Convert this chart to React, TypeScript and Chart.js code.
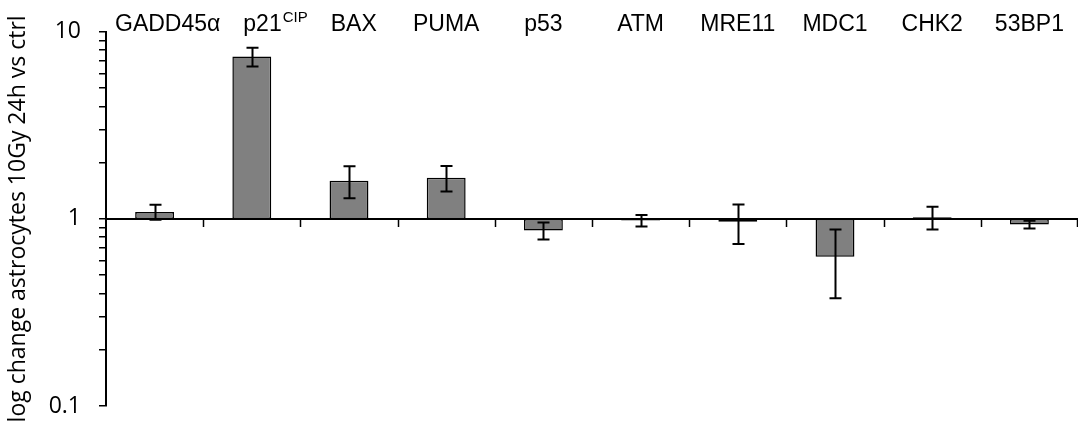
import React, { useEffect, useRef } from 'react';
import { Chart, registerables } from 'chart.js';

Chart.register(...registerables);

const categories = ['GADD45α', 'p21', 'BAX', 'PUMA', 'p53', 'ATM', 'MRE11', 'MDC1', 'CHK2', '53BP1'];
const superscripts = ['', 'CIP', '', '', '', '', '', '', '', ''];
const foldChange = [1.09, 7.38, 1.6, 1.66, 0.867, 0.98, 0.965, 0.627, 1.02, 0.933];
const errors = [0.1, 0.85, 0.31, 0.26, 0.09, 0.07, 0.23, 0.25, 0.143, 0.044];
const baseline = 1;
const yMin = 0.1;
const yMax = 10;
const yTickLabels = [0.1, 1, 10];
const yTitle = 'log change astrocytes 10Gy 24h vs ctrl';

function logMinorTicks(min: number, max: number) {
  const out: number[] = [];
  for (let d = min; d < max * 0.999; d *= 10) {
    for (let k = 1; k <= 9; k++) out.push(Math.round(k * d * 1000) / 1000);
  }
  out.push(max);
  return out;
}

export default function App() {
  const ref = useRef<HTMLCanvasElement>(null);

  useEffect(() => {
    document.body.style.margin = '0';
    const canvas = ref.current;
    if (!canvas) return;

    const overlay = {
      id: 'overlay',
      afterDatasetsDraw(chart: any) {
        const { ctx, chartArea, scales } = chart;
        const xs = scales.x;
        const ys = scales.y;
        ctx.save();
        ctx.strokeStyle = '#000';
        ctx.fillStyle = '#000';

        // error bars
        ctx.lineWidth = 2;
        foldChange.forEach((v, i) => {
          const cx = Math.round(xs.getPixelForValue(i)) + 0.5;
          const top = ys.getPixelForValue(v + errors[i]);
          const bot = ys.getPixelForValue(v - errors[i]);
          ctx.beginPath();
          ctx.moveTo(cx, top);
          ctx.lineTo(cx, bot);
          ctx.moveTo(cx - 6, top);
          ctx.lineTo(cx + 6, top);
          ctx.moveTo(cx - 6, bot);
          ctx.lineTo(cx + 6, bot);
          ctx.stroke();
        });

        // horizontal axis at baseline
        const yb = Math.round(ys.getPixelForValue(baseline));
        ctx.lineWidth = 2;
        ctx.beginPath();
        ctx.moveTo(chartArea.left, yb);
        ctx.lineTo(chartArea.right, yb);
        ctx.stroke();

        // category separator ticks
        const n = categories.length;
        ctx.lineWidth = 1.5;
        for (let i = 1; i <= n; i++) {
          let xb;
          if (i < n) xb = (xs.getPixelForValue(i - 1) + xs.getPixelForValue(i)) / 2;
          else xb = chartArea.right - 1;
          xb = Math.round(xb) + 0.5;
          ctx.beginPath();
          ctx.moveTo(xb, yb);
          ctx.lineTo(xb, yb + 8);
          ctx.stroke();
        }

        // category labels at top (centered, pushed right to avoid axis / overlap)
        ctx.textBaseline = 'alphabetic';
        ctx.textAlign = 'left';
        const baseFont = '23px "Liberation Sans", Arial, sans-serif';
        const supFont = '15px "Liberation Sans", Arial, sans-serif';
        let prevEnd = chartArea.left + 9 - 23;
        categories.forEach((c, i) => {
          const cx = xs.getPixelForValue(i);
          ctx.font = baseFont;
          const w1 = ctx.measureText(c).width;
          ctx.font = supFont;
          const sup = superscripts[i];
          const w2 = sup ? ctx.measureText(sup).width + 1 : 0;
          let start = cx - (w1 + w2) / 2;
          if (start < prevEnd + 23) start = prevEnd + 23;
          ctx.font = baseFont;
          ctx.fillText(c, start, 31);
          if (sup) {
            ctx.font = supFont;
            ctx.fillText(sup, start + w1 + 1, 22);
          }
          prevEnd = start + w1 + w2;
        });
        ctx.restore();
      },
    };

    const chart = new Chart(canvas, {
      type: 'bar',
      data: {
        labels: categories,
        datasets: [
          {
            data: foldChange.map((v) => [baseline, v]) as any,
            backgroundColor: '#808080',
            borderColor: '#000',
            borderWidth: 1.5,
            borderSkipped: false,
            categoryPercentage: 1,
            barPercentage: 0.4,
          },
        ],
      },
      options: {
        animation: false,
        responsive: false,
        maintainAspectRatio: false,
        layout: { padding: { top: 28, bottom: 38, left: 0, right: 0 } },
        plugins: { legend: { display: false }, tooltip: { enabled: false } },
        scales: {
          x: { type: 'category', display: false },
          y: {
            type: 'logarithmic',
            min: yMin,
            max: yMax,
            position: 'left',
            afterBuildTicks: (scale: any) => {
              scale.ticks = logMinorTicks(yMin, yMax).map((v) => ({ value: v }));
            },
            afterFit: (scale: any) => {
              scale.width = 106;
            },
            border: { display: true, color: '#000', width: 2 },
            grid: { drawOnChartArea: false, color: '#000', tickLength: 7, lineWidth: 1.5 },
            ticks: {
              padding: 18,
              color: '#000',
              autoSkip: false,
              font: { family: '"Open Sans", sans-serif', size: 23 },
              callback: (v: any) => (yTickLabels.some((t) => Math.abs(t - Number(v)) < 1e-9) ? String(v) : ''),
            },
            title: {
              display: true,
              text: yTitle,
              color: '#000',
              font: { family: '"Open Sans", sans-serif', size: 23 },
              padding: { top: 5, bottom: 0 },
            },
          },
        },
      },
      plugins: [overlay],
    });
    return () => chart.destroy();
  }, []);

  return (
    <div style={{ position: 'absolute', left: 0, top: 0, width: 1078, height: 444, background: '#fff' }}>
      <canvas ref={ref} width={1078} height={444} />
    </div>
  );
}
